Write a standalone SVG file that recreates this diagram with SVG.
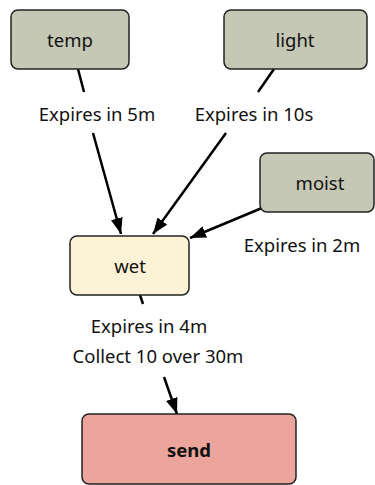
<svg xmlns="http://www.w3.org/2000/svg" width="375" height="485" viewBox="0 0 375 485">
<defs>
<marker id="arr" viewBox="0 0 16 12" refX="16" refY="6" markerWidth="16" markerHeight="12" markerUnits="userSpaceOnUse" orient="auto">
<path d="M0,0 L16,6 L0,12 Z" fill="#000"/>
</marker>
</defs>
<style>
.n{stroke:#222;stroke-width:1.5}
.src{fill:#c5c8b4}
.t{font-family:"Noto Sans","Open Sans",sans-serif;font-size:18.5px;fill:#111;text-anchor:middle}
.e{stroke:#000;stroke-width:2.5;fill:none}
</style>
<rect width="375" height="485" fill="#fff"/>
<g id="edges">
<path class="e" d="M78,69 L84,92 M93,133 L121,234" marker-end="url(#arr)"/>
<path class="e" d="M274,69 L258,92 M226,133 L153,234" marker-end="url(#arr)"/>
<path class="e" d="M262,208 L190,238" marker-end="url(#arr)"/>
<path class="e" d="M140,295 L143,304 M164,377 L177,414" marker-end="url(#arr)"/>
<text class="t" x="97" y="121">Expires in 5m</text>
<text class="t" x="254" y="121">Expires in 10s</text>
<text class="t" x="302" y="252">Expires in 2m</text>
<text class="t" x="149" y="333">Expires in 4m</text>
<text class="t" x="158" y="363">Collect 10 over 30m</text>
</g>
<g id="temp"><rect class="n src" x="11" y="10" width="118" height="59" rx="7"/><text class="t" x="70" y="47">temp</text></g>
<g id="light"><rect class="n src" x="224" y="10" width="143" height="59" rx="7"/><text class="t" x="295" y="47">light</text></g>
<g id="moist"><rect class="n src" x="260" y="153" width="114" height="59" rx="7"/><text class="t" x="320" y="190">moist</text></g>
<g id="wet"><rect class="n" fill="#fcf3d6" x="70" y="236" width="119" height="59" rx="7"/><text class="t" x="130" y="273">wet</text></g>
<g id="send"><rect class="n" fill="#eba59c" x="82" y="414" width="214" height="70" rx="7"/><text class="t" x="189" y="457" font-weight="bold">send</text></g>
</svg>
